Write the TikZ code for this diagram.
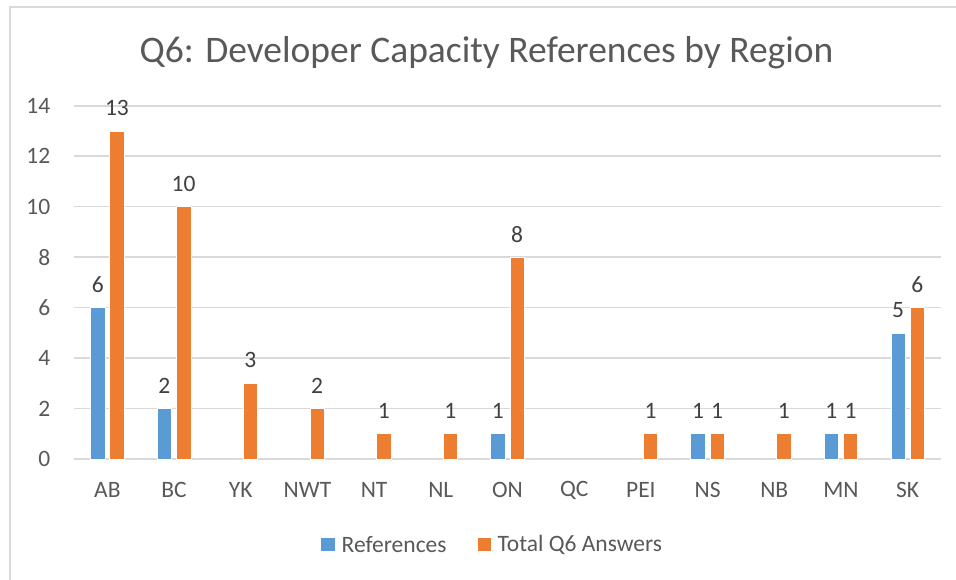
\documentclass[tikz,border=0pt]{standalone}
\usepackage{fontspec}
\setmainfont{Carlito}
\definecolor{refblue}{HTML}{5B9BD5}
\definecolor{totorange}{HTML}{ED7D31}
\definecolor{gridgray}{HTML}{D9D9D9}
\definecolor{txtgray}{HTML}{595959}
\definecolor{datgray}{HTML}{404040}
\begin{document}
\begin{tikzpicture}[x=1pt,y=-1pt,
  axlbl/.style={text=txtgray, font=\fontsize{23.5}{28}\selectfont, inner sep=0pt},
  datlbl/.style={text=datgray, font=\fontsize{23.5}{28}\selectfont, inner sep=0pt},
  gridline/.style={draw=gridgray, line width=1.6pt},
  refbar/.style={fill=refblue, draw=white, line width=0.6pt},
  totbar/.style={fill=totorange, draw=white, line width=0.6pt},
  titletext/.style={text=txtgray, font=\fontsize{37.5}{44}\selectfont, inner sep=0pt}]
\useasboundingbox (0,0) rectangle (956,580);
\fill[white] (0,0) rectangle (956,580);
\begin{scope}
  \clip (0,0) rectangle (956,580);
  \draw[gridgray, line width=2pt] (10,7) rectangle (975,600);
\end{scope}
% title
\node[titletext, anchor=base] (title) at (486.5,62.7) {Q6: Developer Capacity References by Region};
% gridlines and y labels
\foreach \k in {0,...,7} {
  \pgfmathsetmacro{\yy}{459-\k*50.47}
  \coordinate (gl-\k) at (74,\yy);
  \coordinate (gr-\k) at (941,\yy);
  \draw[gridline] (gl-\k) -- (gr-\k);
  \pgfmathtruncatemacro{\v}{2*\k}
  \node[axlbl, anchor=east] (ytick-\k) at (50.5,\yy) {\v};
}
% bars
\def\cw{66.69}
\def\hs{25.235}
\foreach \i/\nm/\r/\t in {1/AB/6/13, 2/BC/2/10, 3/YK/0/3, 4/NWT/0/2, 5/NT/0/1, 6/NL/0/1, 7/ON/1/8, 8/QC/0/0, 9/PEI/0/1, 10/NS/1/1, 11/NB/0/1, 12/MN/1/1, 13/SK/5/6} {
  \pgfmathsetmacro{\cx}{74+(\i-0.5)*\cw}
  \node[axlbl] (cat-\i) at (\cx,490) {\nm};
  \ifnum\r>0
    \pgfmathsetmacro{\top}{459-\r*\hs}
    \path[refbar] (\cx-16.8,459) rectangle (\cx-2.4,\top);
    \node[datlbl] (rl-\i) at (\cx-9.6,\top-23) {\r};
  \fi
  \ifnum\t>0
    \pgfmathsetmacro{\top}{459-\t*\hs}
    \path[totbar] (\cx+2.4,459) rectangle (\cx+16.8,\top);
    \node[datlbl] (tl-\i) at (\cx+9.6,\top-23) {\t};
  \fi
}
% legend
\fill[refblue] (321,538.3) rectangle (334.5,551);
\node[axlbl, anchor=west] (leg-ref) at (341.5,544.5) {References};
\fill[totorange] (477.7,538.3) rectangle (491.2,551);
\node[axlbl, anchor=west] (leg-tot) at (497.3,544.5) {Total Q6 Answers};
\end{tikzpicture}
\end{document}
